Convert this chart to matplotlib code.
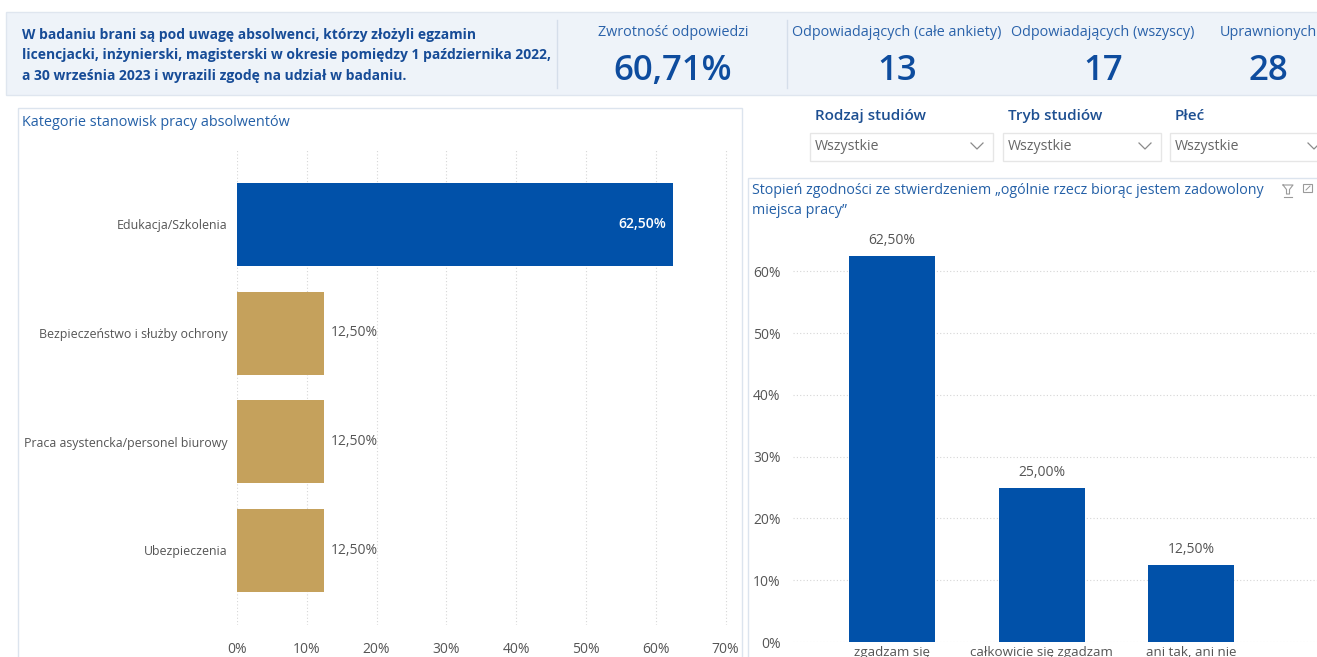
import matplotlib
matplotlib.use("Agg")
import matplotlib.pyplot as plt
from matplotlib.patches import Rectangle
import matplotlib.ticker as mticker

# ---- data -------------------------------------------------------------
intro_lines = [
    "W badaniu brani są pod uwagę absolwenci, którzy złożyli egzamin",
    "licencjacki, inżynierski, magisterski w okresie pomiędzy 1 października 2022,",
    "a 30 września 2023 i wyrazili zgodę na udział w badaniu.",
]
kpi_labels = ["Zwrotność odpowiedzi", "Odpowiadających (całe ankiety)",
              "Odpowiadających (wszyscy)", "Uprawnionych"]
kpi_values = ["60,71%", "13", "17", "28"]

slicer_titles = ["Rodzaj studiów", "Tryb studiów", "Płeć"]
slicer_value = "Wszystkie"

job_title = "Kategorie stanowisk pracy absolwentów"
job_categories = ["Edukacja/Szkolenia", "Bezpieczeństwo i służby ochrony",
                  "Praca asystencka/personel biurowy", "Ubezpieczenia"]
job_shares = [62.5, 12.5, 12.5, 12.5]
job_ticks = [0, 10, 20, 30, 40, 50, 60, 70]

sat_title = ["Stopień zgodności ze stwierdzeniem „ogólnie rzecz biorąc jestem zadowolony",
             "miejsca pracy”"]
sat_levels = ["zgadzam się", "całkowicie się zgadzam", "ani tak, ani nie"]
sat_shares = [62.5, 25.0, 12.5]
sat_ticks = [0, 10, 20, 30, 40, 50, 60]

# ---- style ------------------------------------------------------------
BLUE = "#0151A9"
GOLD = "#C5A15C"
DARK_BLUE = "#174C97"
TITLE_BLUE = "#2460A7"
GRAY_TXT = "#555555"
GRID = "#D6D6D6"
PANEL_EDGE = "#DCE4EE"

plt.rcParams["font.family"] = ["Open Sans", "DejaVu Sans"]

W, H = 1317, 657
fig = plt.figure(figsize=(W / 100, H / 100), dpi=100)
fig.patch.set_facecolor("white")

bg = fig.add_axes([0, 0, 1, 1])
bg.set_xlim(0, W)
bg.set_ylim(H, 0)
bg.axis("off")


def px_axes(x0, y0, x1, y1):
    return fig.add_axes([x0 / W, (H - y1) / H, (x1 - x0) / W, (y1 - y0) / H])


def pct(v):
    return f"{v:.2f}%".replace(".", ",")


# ---- header band ------------------------------------------------------
bg.add_patch(Rectangle((6, 12), W, 83, facecolor="#EEF3F9", edgecolor="#DFE6EF", lw=1))
for xd in (557, 787):
    bg.plot([xd, xd], [20, 88], color="#D5DEEA", lw=1)
for i, line in enumerate(intro_lines):
    bg.text(22, 35 + i * 20.5, line, fontsize=10, fontweight="bold",
            color=DARK_BLUE, va="center", ha="left")

kpi_x = [673, 897, 1103, 1268]
for x, lab, val in zip(kpi_x, kpi_labels, kpi_values):
    bg.text(x, 33, lab, fontsize=10.4, color="#2A62AA", ha="center", va="center")
    bg.text(x, 71, val, fontsize=25, fontweight="semibold", color="#0E4C9E",
            ha="center", va="center")

# ---- slicers ----------------------------------------------------------
slicer_boxes = [(810, 993), (1003, 1161), (1170, 1330)]
for title, (x0, x1) in zip(slicer_titles, slicer_boxes):
    bg.text(x0 + 5, 116, title, fontsize=11, color="#1D4F91",
            fontweight="semibold", ha="left", va="center")
    bg.add_patch(Rectangle((x0, 133), x1 - x0, 28, facecolor="white",
                           edgecolor="#E6E6E6", lw=1))
    bg.text(x0 + 5, 147, slicer_value, fontsize=10.2, color="#666666",
            ha="left", va="center")
    cx = x1 - 16
    bg.plot([cx - 6, cx, cx + 6], [143, 149, 143], color="#8A8A8A", lw=0.9)

# ---- panels -----------------------------------------------------------
bg.add_patch(Rectangle((18, 108), 724, 560, facecolor="none", edgecolor=PANEL_EDGE, lw=1))
bg.add_patch(Rectangle((748, 178), 600, 500, facecolor="none", edgecolor=PANEL_EDGE, lw=1))

bg.text(22, 122, job_title, fontsize=10.4, color=TITLE_BLUE, ha="left", va="center")
bg.text(752, 190, sat_title[0], fontsize=10.3, color=TITLE_BLUE, ha="left", va="center")
bg.text(752, 211, sat_title[1], fontsize=10.3, color=TITLE_BLUE, ha="left", va="center")

# small visual-header icons (filter + focus mode)
bg.plot([1283, 1293, 1289.5, 1289.5, 1286.5, 1286.5, 1283],
        [185, 185, 189.5, 194, 194, 189.5, 185], color="#9A9A9A", lw=0.8)
bg.plot([1284, 1292], [197, 197], color="#9A9A9A", lw=0.8)
bg.add_patch(Rectangle((1303, 184), 9, 8, facecolor="none", edgecolor="#9A9A9A", lw=0.8))
bg.plot([1306, 1310], [190, 186], color="#9A9A9A", lw=0.7)

# ---- horizontal bar chart: job categories -----------------------------
step1 = 108.5
top1, bot1 = 150, 625
ax1 = px_axes(237, top1, 740, bot1)
ax1.set_facecolor("none")
ypos = list(range(len(job_categories)))
top_share = max(job_shares)
colors1 = [BLUE if v == top_share else GOLD for v in job_shares]
ax1.barh(ypos, job_shares, height=83 / step1, color=colors1, zorder=3)
ax1.set_ylim(3 + (bot1 - 550) / step1, -(224.5 - top1) / step1)
ax1.set_xlim(0, (740 - 237) / 69.8 * 10)
ax1.set_yticks(ypos)
ax1.set_yticklabels(job_categories, fontsize=8.95, color=GRAY_TXT)
ax1.set_xticks(job_ticks)
ax1.xaxis.set_major_formatter(mticker.FuncFormatter(lambda v, p: f"{v:.0f}%"))
ax1.tick_params(axis="x", length=0, pad=12, labelsize=10, labelcolor=GRAY_TXT)
ax1.tick_params(axis="y", length=0, pad=7)
ax1.grid(axis="x", color=GRID, linestyle=(0, (1, 2)), lw=0.8, zorder=0)
for s in ax1.spines.values():
    s.set_visible(False)
for y, v in zip(ypos, job_shares):
    if v == top_share:
        ax1.text(v - 1, y, pct(v), color="white", fontsize=10, fontweight="semibold",
                 ha="right", va="center", zorder=4)
    else:
        ax1.text(v + 1, y, pct(v), color=GRAY_TXT, fontsize=10, ha="left",
                 va="center", zorder=4)

# ---- column chart: satisfaction ----------------------------------------
step2 = 149.5
ax2 = px_axes(793, 240, 1317, 642)
ax2.set_facecolor("none")
xpos = list(range(len(sat_levels)))
ax2.bar(xpos, sat_shares, width=86 / step2, color=BLUE, zorder=3)
ax2.set_xlim(-(892 - 793) / step2, 2 + (1317 - 1191) / step2)
ax2.set_ylim(0, (642 - 240) / 61.8 * 10)
ax2.set_yticks(sat_ticks)
ax2.yaxis.set_major_formatter(mticker.FuncFormatter(lambda v, p: f"{v:.0f}%"))
ax2.set_xticks(xpos)
ax2.set_xticklabels(sat_levels, fontsize=9.6, color=GRAY_TXT)
ax2.tick_params(axis="y", length=0, pad=9, labelsize=10, labelcolor=GRAY_TXT)
ax2.tick_params(axis="x", length=0, pad=3)
ax2.grid(axis="y", color=GRID, linestyle=(0, (1, 2)), lw=0.8, zorder=0)
ax2.set_axisbelow(True)
for s in ax2.spines.values():
    s.set_visible(False)
for x, v in zip(xpos, sat_shares):
    ax2.text(x, v + 1.2, pct(v), color=GRAY_TXT, fontsize=10, ha="center",
             va="bottom", zorder=4)

fig.savefig("out.png", dpi=100, facecolor="white")
